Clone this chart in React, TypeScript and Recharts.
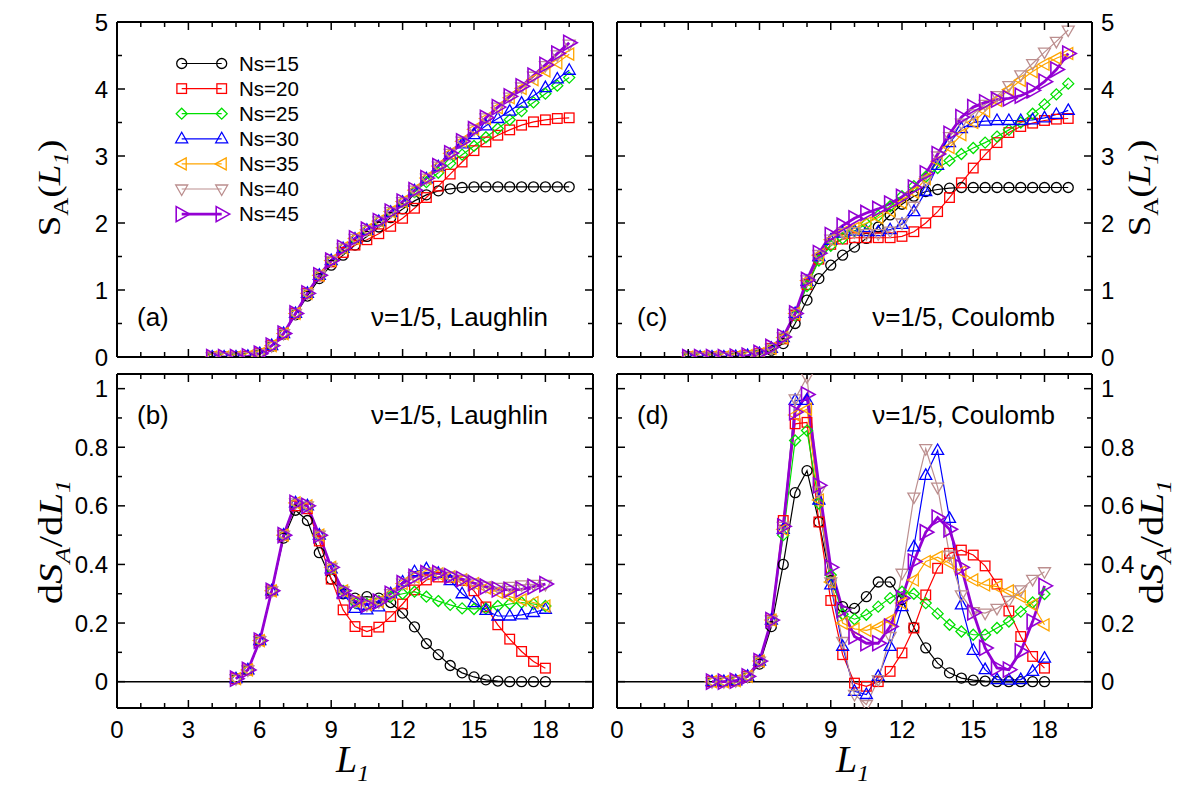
import React from 'react';
import { LineChart, Line, XAxis, YAxis, ReferenceLine } from 'recharts';

const SANS = '"Liberation Sans", Arial, Helvetica, sans-serif';
const SERIF = '"Liberation Serif", "Times New Roman", Times, serif';

const NS_LABELS = ['Ns=15', 'Ns=20', 'Ns=25', 'Ns=30', 'Ns=35', 'Ns=40', 'Ns=45'];
const COLORS = ['#000000', '#ff0000', '#00e000', '#0000ff', '#ffa500', '#bc8f8f', '#9400d3'];
const SHAPES = ['circle', 'square', 'diamond', 'up', 'left', 'down', 'right'];

const X_TICKS = [0, 1, 2, 3, 4, 5, 6, 7, 8, 9, 10, 11, 12, 13, 14, 15, 16, 17, 18, 19, 20];
const X_LABELED = [0, 3, 6, 9, 12, 15, 18];
const S_TICKS = [0, 0.5, 1, 1.5, 2, 2.5, 3, 3.5, 4, 4.5, 5];
const S_LABELED = [0, 1, 2, 3, 4, 5];
const D_TICKS = [0, 0.1, 0.2, 0.3, 0.4, 0.5, 0.6, 0.7, 0.8, 0.9, 1];
const D_LABELED = [0, 0.2, 0.4, 0.6, 0.8, 1];

// ---------- panel (a): S_A(L1), Laughlin ----------
const L1_A = [4, 4.5, 5, 5.5, 6, 6.5, 7, 7.5, 8, 8.5, 9, 9.5, 10, 10.5, 11, 11.5, 12, 12.5, 13, 13.5, 14, 14.5, 15, 15.5, 16, 16.5, 17, 17.5, 18, 18.5, 19];
const A15 = [0, 0, 0, 0.01, 0.05, 0.16, 0.34, 0.63, 0.91, 1.17, 1.37, 1.52, 1.67, 1.8, 1.94, 2.08, 2.21, 2.33, 2.42, 2.48, 2.51, 2.53, 2.54, 2.54, 2.54, 2.54, 2.54, 2.54, 2.54, 2.54, 2.54];
const A20 = [0, 0, 0, 0.01, 0.05, 0.17, 0.35, 0.65, 0.95, 1.21, 1.42, 1.56, 1.67, 1.75, 1.84, 1.95, 2.07, 2.22, 2.38, 2.55, 2.73, 2.91, 3.08, 3.21, 3.31, 3.39, 3.46, 3.51, 3.54, 3.56, 3.57];
const A25 = [0, 0, 0, 0.01, 0.05, 0.17, 0.35, 0.65, 0.95, 1.22, 1.44, 1.62, 1.76, 1.89, 2.02, 2.16, 2.31, 2.46, 2.61, 2.75, 2.89, 3.02, 3.15, 3.28, 3.41, 3.54, 3.67, 3.8, 3.93, 4.05, 4.17];
const A30 = [0, 0, 0, 0.01, 0.05, 0.17, 0.35, 0.65, 0.95, 1.22, 1.44, 1.62, 1.76, 1.89, 2.02, 2.16, 2.31, 2.48, 2.66, 2.84, 3.02, 3.18, 3.32, 3.45, 3.56, 3.67, 3.79, 3.9, 4.02, 4.15, 4.28];
const A35 = [0, 0, 0, 0.01, 0.05, 0.17, 0.35, 0.65, 0.95, 1.22, 1.44, 1.63, 1.77, 1.9, 2.03, 2.17, 2.32, 2.49, 2.67, 2.85, 3.04, 3.22, 3.4, 3.56, 3.72, 3.87, 4.01, 4.14, 4.27, 4.39, 4.52];
const A40 = [0, 0, 0, 0.01, 0.05, 0.17, 0.35, 0.65, 0.95, 1.22, 1.44, 1.63, 1.77, 1.9, 2.03, 2.17, 2.32, 2.49, 2.67, 2.85, 3.04, 3.22, 3.4, 3.57, 3.73, 3.88, 4.03, 4.19, 4.35, 4.51, 4.67];
const A45 = [0, 0, 0, 0.01, 0.05, 0.17, 0.35, 0.65, 0.95, 1.22, 1.44, 1.63, 1.77, 1.9, 2.03, 2.17, 2.32, 2.49, 2.67, 2.85, 3.04, 3.22, 3.4, 3.57, 3.73, 3.89, 4.04, 4.2, 4.36, 4.53, 4.69];

// ---------- panel (b): dS_A/dL1, Laughlin ----------
const L1_B = [5, 5.5, 6, 6.5, 7, 7.5, 8, 8.5, 9, 9.5, 10, 10.5, 11, 11.5, 12, 12.5, 13, 13.5, 14, 14.5, 15, 15.5, 16, 16.5, 17, 17.5, 18];
const B15 = [0.01, 0.04, 0.14, 0.31, 0.49, 0.585, 0.55, 0.44, 0.35, 0.3, 0.285, 0.29, 0.285, 0.27, 0.234, 0.187, 0.13, 0.092, 0.055, 0.03, 0.016, 0.006, 0.002, 0, 0, 0, 0];
const B20 = [0.01, 0.04, 0.14, 0.31, 0.5, 0.6, 0.59, 0.48, 0.35, 0.245, 0.188, 0.171, 0.186, 0.222, 0.265, 0.313, 0.347, 0.357, 0.356, 0.345, 0.31, 0.255, 0.194, 0.145, 0.103, 0.069, 0.046];
const B25 = [0.01, 0.04, 0.14, 0.31, 0.5, 0.61, 0.6, 0.5, 0.385, 0.31, 0.27, 0.265, 0.275, 0.29, 0.3, 0.307, 0.29, 0.275, 0.262, 0.25, 0.248, 0.25, 0.258, 0.265, 0.27, 0.265, 0.258];
const B30 = [0.01, 0.04, 0.14, 0.31, 0.5, 0.61, 0.6, 0.5, 0.385, 0.3, 0.25, 0.245, 0.255, 0.3, 0.34, 0.375, 0.385, 0.37, 0.345, 0.3, 0.27, 0.243, 0.224, 0.224, 0.228, 0.236, 0.247];
const B35 = [0.01, 0.04, 0.14, 0.31, 0.5, 0.61, 0.6, 0.5, 0.39, 0.31, 0.275, 0.263, 0.273, 0.3, 0.335, 0.357, 0.368, 0.368, 0.358, 0.347, 0.335, 0.32, 0.305, 0.29, 0.279, 0.27, 0.258];
const B40 = [0.01, 0.04, 0.14, 0.31, 0.5, 0.61, 0.6, 0.5, 0.39, 0.31, 0.275, 0.262, 0.273, 0.3, 0.336, 0.358, 0.37, 0.37, 0.36, 0.35, 0.336, 0.326, 0.322, 0.325, 0.33, 0.332, 0.332];
const B45 = [0.01, 0.04, 0.14, 0.31, 0.5, 0.61, 0.6, 0.5, 0.39, 0.31, 0.275, 0.262, 0.273, 0.3, 0.336, 0.358, 0.37, 0.37, 0.36, 0.35, 0.336, 0.324, 0.315, 0.313, 0.315, 0.324, 0.333];

// ---------- panel (c): S_A(L1), Coulomb ----------
const L1_C = [3, 3.5, 4, 4.5, 5, 5.5, 6, 6.5, 7, 7.5, 8, 8.5, 9, 9.5, 10, 10.5, 11, 11.5, 12, 12.5, 13, 13.5, 14, 14.5, 15, 15.5, 16, 16.5, 17, 17.5, 18, 18.5, 19];
const C15 = [0, 0, 0, 0, 0.005, 0.015, 0.04, 0.1, 0.2, 0.5, 0.85, 1.17, 1.37, 1.52, 1.64, 1.77, 1.94, 2.12, 2.28, 2.4, 2.47, 2.5, 2.52, 2.53, 2.53, 2.53, 2.53, 2.53, 2.53, 2.53, 2.53, 2.53, 2.53];
const C20 = [0, 0, 0, 0, 0.005, 0.02, 0.05, 0.13, 0.27, 0.62, 1.08, 1.46, 1.68, 1.76, 1.78, 1.78, 1.78, 1.78, 1.8, 1.87, 2.0, 2.17, 2.38, 2.6, 2.82, 3.02, 3.2, 3.35, 3.44, 3.49, 3.53, 3.55, 3.56];
const C25 = [0, 0, 0, 0, 0.005, 0.02, 0.05, 0.13, 0.28, 0.62, 1.06, 1.44, 1.66, 1.77, 1.88, 1.99, 2.11, 2.25, 2.4, 2.55, 2.69, 2.82, 2.93, 3.03, 3.12, 3.2, 3.29, 3.39, 3.5, 3.63, 3.77, 3.92, 4.08];
const C30 = [0, 0, 0, 0, 0.005, 0.02, 0.05, 0.13, 0.29, 0.65, 1.13, 1.5, 1.74, 1.85, 1.88, 1.87, 1.87, 1.9, 1.98, 2.17, 2.47, 2.86, 3.2, 3.41, 3.5, 3.52, 3.53, 3.53, 3.53, 3.54, 3.57, 3.62, 3.68];
const C35 = [0, 0, 0, 0, 0.005, 0.02, 0.05, 0.13, 0.29, 0.65, 1.14, 1.52, 1.75, 1.86, 1.92, 2.0, 2.08, 2.18, 2.3, 2.46, 2.66, 2.92, 3.13, 3.32, 3.5, 3.67, 3.83, 3.99, 4.13, 4.26, 4.37, 4.46, 4.53];
const C40 = [0, 0, 0, 0, 0.005, 0.02, 0.05, 0.13, 0.3, 0.65, 1.15, 1.53, 1.76, 1.86, 1.87, 1.84, 1.84, 1.88, 2.0, 2.25, 2.63, 3.0, 3.29, 3.49, 3.63, 3.77, 3.9, 4.05, 4.21, 4.38, 4.55, 4.71, 4.88];
const C45 = [0, 0, 0, 0, 0.005, 0.02, 0.06, 0.15, 0.3, 0.65, 1.15, 1.55, 1.82, 1.96, 2.07, 2.15, 2.21, 2.29, 2.39, 2.53, 2.74, 3.03, 3.33, 3.58, 3.73, 3.8, 3.84, 3.86, 3.9, 3.98, 4.11, 4.29, 4.53];

// ---------- panel (d): dS_A/dL1, Coulomb ----------
const L1_D = [4, 4.5, 5, 5.5, 6, 6.5, 7, 7.5, 8, 8.5, 9, 9.5, 10, 10.5, 11, 11.5, 12, 12.5, 13, 13.5, 14, 14.5, 15, 15.5, 16, 16.5, 17, 17.5, 18];
const D15 = [0, 0, 0.003, 0.015, 0.06, 0.188, 0.4, 0.645, 0.72, 0.545, 0.345, 0.256, 0.25, 0.29, 0.34, 0.34, 0.28, 0.185, 0.115, 0.063, 0.03, 0.012, 0.005, 0.002, 0, 0, 0, 0, 0];
const D20 = [0, 0, 0.003, 0.018, 0.07, 0.21, 0.55, 0.88, 0.885, 0.545, 0.277, 0.092, -0.005, -0.016, 0.0, 0.035, 0.098, 0.183, 0.296, 0.387, 0.438, 0.449, 0.432, 0.395, 0.333, 0.241, 0.154, 0.086, 0.046];
const D25 = [0, 0, 0.003, 0.018, 0.07, 0.21, 0.5, 0.823, 0.857, 0.608, 0.364, 0.23, 0.213, 0.228, 0.256, 0.285, 0.307, 0.3, 0.268, 0.232, 0.194, 0.171, 0.16, 0.16, 0.183, 0.205, 0.239, 0.27, 0.299];
const D30 = [0, 0, 0.003, 0.018, 0.07, 0.21, 0.52, 0.96, 0.96, 0.62, 0.33, 0.12, -0.033, -0.044, 0.018, 0.12, 0.256, 0.46, 0.704, 0.789, 0.557, 0.262, 0.107, 0.041, 0.007, 0.005, 0.007, 0.035, 0.08];
const D35 = [0, 0, 0.003, 0.018, 0.07, 0.21, 0.52, 0.91, 0.93, 0.62, 0.34, 0.2, 0.18, 0.175, 0.186, 0.21, 0.268, 0.347, 0.41, 0.425, 0.404, 0.375, 0.347, 0.33, 0.324, 0.31, 0.29, 0.262, 0.194];
const D40 = [0, 0, 0.003, 0.018, 0.07, 0.21, 0.53, 0.965, 1.04, 0.65, 0.34, 0.137, -0.044, -0.078, 0.007, 0.154, 0.37, 0.63, 0.795, 0.664, 0.432, 0.296, 0.239, 0.234, 0.25, 0.277, 0.313, 0.349, 0.375];
const D45 = [0, 0, 0.003, 0.018, 0.07, 0.21, 0.53, 0.92, 0.98, 0.67, 0.39, 0.245, 0.154, 0.131, 0.131, 0.188, 0.285, 0.41, 0.51, 0.56, 0.52, 0.39, 0.236, 0.115, 0.047, 0.041, 0.103, 0.205, 0.327];

const toPts = (xs: number[], ys: number[]) => xs.map((x, i) => ({ x, y: ys[i] }));

function Marker({ shape, cx, cy, color }: { shape: string; cx: number; cy: number; color: string }) {
  if (cx == null || cy == null || isNaN(cx) || isNaN(cy)) return null;
  const sw = shape === 'right' ? 1.6 : 1.3;
  const common = { fill: 'none', stroke: color, strokeWidth: sw };
  switch (shape) {
    case 'circle':
      return <circle cx={cx} cy={cy} r={5} {...common} />;
    case 'square':
      return <rect x={cx - 4.8} y={cy - 4.8} width={9.6} height={9.6} {...common} />;
    case 'diamond':
      return <polygon points={`${cx},${cy - 5.5} ${cx + 5.5},${cy} ${cx},${cy + 5.5} ${cx - 5.5},${cy}`} {...common} />;
    case 'up':
      return <polygon points={`${cx},${cy - 6.5} ${cx + 6},${cy + 4} ${cx - 6},${cy + 4}`} {...common} />;
    case 'down':
      return <polygon points={`${cx},${cy + 6.5} ${cx + 6},${cy - 4} ${cx - 6},${cy - 4}`} {...common} />;
    case 'left':
      return <polygon points={`${cx - 6.5},${cy} ${cx + 4.5},${cy - 6} ${cx + 4.5},${cy + 6}`} {...common} />;
    default:
      return <polygon points={`${cx + 8},${cy} ${cx - 5.5},${cy - 7.5} ${cx - 5.5},${cy + 7.5}`} {...common} />;
  }
}

const TICK_FONT = 24;
const isMajorX = (v: number) => Math.round(v) % 3 === 0;

const mkBottomTick = (showLabel: boolean) => (p: any) => {
  const v = p.payload.value;
  const major = isMajorX(v);
  return (
    <g key={`bt${v}`}>
      <line x1={p.x} x2={p.x} y1={p.y} y2={p.y - (major ? 8 : 5)} stroke="#000" strokeWidth={1.5} />
      {showLabel && X_LABELED.includes(v) ? (
        <text x={p.x} y={p.y + 30} textAnchor="middle" fontSize={TICK_FONT} fontFamily={SANS} fill="#000">
          {String(v)}
        </text>
      ) : null}
    </g>
  );
};

const topTick = (p: any) => {
  const v = p.payload.value;
  const major = isMajorX(v);
  return (
    <g key={`tt${v}`}>
      <line x1={p.x} x2={p.x} y1={p.y} y2={p.y + (major ? 8 : 5)} stroke="#000" strokeWidth={1.5} />
    </g>
  );
};

const mkYTick = (side: 'left' | 'right', labeled: number[], showLabel: boolean) => (p: any) => {
  const v = p.payload.value;
  const major = labeled.some((m) => Math.abs(m - v) < 1e-6);
  const len = major ? 8 : 5;
  const dir = side === 'left' ? 1 : -1;
  return (
    <g key={`yt${side}${v}`}>
      <line x1={p.x} x2={p.x + dir * len} y1={p.y} y2={p.y} stroke="#000" strokeWidth={1.5} />
      {showLabel && major ? (
        <text
          x={p.x - dir * 9}
          y={p.y}
          dy="0.36em"
          textAnchor={side === 'left' ? 'end' : 'start'}
          fontSize={TICK_FONT}
          fontFamily={SANS}
          fill="#000"
        >
          {String(v)}
        </text>
      ) : null}
    </g>
  );
};

type PanelProps = {
  left: number;
  top: number;
  w: number;
  h: number;
  xs: number[];
  series: number[][];
  yDomain: [number, number];
  yTicks: number[];
  yLabeled: number[];
  labelSide: 'left' | 'right';
  showX: boolean;
  zero: boolean;
};

const PAD_T = 22;
const PAD_B = 50;
const PAD_S = 60;

function Panel({ left, top, w, h, xs, series, yDomain, yTicks, yLabeled, labelSide, showX, zero }: PanelProps) {
  return (
    <div style={{ position: 'absolute', left: left - PAD_S, top: top - PAD_T, width: w + 2 * PAD_S, height: h + PAD_T + PAD_B }}>
      <LineChart width={w + 2 * PAD_S} height={h + PAD_T + PAD_B} margin={{ top: 0, right: 0, bottom: 0, left: 0 }}>
        <XAxis
          xAxisId="b"
          type="number"
          dataKey="x"
          domain={[0, 20]}
          allowDataOverflow
          ticks={X_TICKS}
          interval={0}
          height={PAD_B}
          tickSize={0}
          tickMargin={0}
          axisLine={{ stroke: '#000', strokeWidth: 2 }}
          tickLine={false}
          tick={mkBottomTick(showX)}
        />
        <XAxis
          xAxisId="t"
          orientation="top"
          type="number"
          dataKey="x"
          domain={[0, 20]}
          allowDataOverflow
          ticks={X_TICKS}
          interval={0}
          height={PAD_T}
          tickSize={0}
          tickMargin={0}
          axisLine={{ stroke: '#000', strokeWidth: 2 }}
          tickLine={false}
          tick={topTick}
        />
        <YAxis
          yAxisId="l"
          type="number"
          domain={yDomain}
          allowDataOverflow
          ticks={yTicks}
          interval={0}
          width={PAD_S}
          tickSize={0}
          tickMargin={0}
          axisLine={{ stroke: '#000', strokeWidth: 2 }}
          tickLine={false}
          tick={mkYTick('left', yLabeled, labelSide === 'left')}
        />
        <YAxis
          yAxisId="r"
          orientation="right"
          type="number"
          domain={yDomain}
          allowDataOverflow
          ticks={yTicks}
          interval={0}
          width={PAD_S}
          tickSize={0}
          tickMargin={0}
          axisLine={{ stroke: '#000', strokeWidth: 2 }}
          tickLine={false}
          tick={mkYTick('right', yLabeled, labelSide === 'right')}
        />
        {zero ? <ReferenceLine xAxisId="b" yAxisId="l" y={0} stroke="#000" strokeWidth={1.5} /> : null}
        {series.map((ys, si) => (
          <Line
            key={NS_LABELS[si]}
            xAxisId="b"
            yAxisId="l"
            data={toPts(xs, ys)}
            dataKey="y"
            type="linear"
            stroke={COLORS[si]}
            strokeWidth={si === 6 ? 2.8 : 1.2}
            isAnimationActive={false}
            activeDot={false}
            dot={(p: any) => (
              <Marker key={`m${si}-${p.index}`} shape={SHAPES[si]} cx={p.cx} cy={p.cy} color={COLORS[si]} />
            )}
          />
        ))}
      </LineChart>
    </div>
  );
}

function Overlay() {
  const legendY = [63.5, 88.6, 113.7, 138.8, 163.9, 189, 214.1];
  return (
    <svg
      width={1199}
      height={789}
      style={{ position: 'absolute', left: 0, top: 0, pointerEvents: 'none' }}
    >
      {/* legend */}
      {NS_LABELS.map((lab, i) => (
        <g key={lab}>
          <line x1={181.7} x2={221.7} y1={legendY[i]} y2={legendY[i]} stroke={COLORS[i]} strokeWidth={i === 6 ? 2.8 : 1.2} />
          <Marker shape={SHAPES[i]} cx={181.7} cy={legendY[i]} color={COLORS[i]} />
          <Marker shape={SHAPES[i]} cx={221.7} cy={legendY[i]} color={COLORS[i]} />
          <text x={239} y={legendY[i]} dy="0.36em" fontSize={20.5} fontFamily={SANS} fill="#000">
            {lab}
          </text>
        </g>
      ))}
      {/* panel labels */}
      <text x={137} y={326} fontSize={26} fontFamily={SANS}>(a)</text>
      <text x={137} y={424} fontSize={26} fontFamily={SANS}>(b)</text>
      <text x={637} y={326} fontSize={26} fontFamily={SANS}>(c)</text>
      <text x={637} y={424} fontSize={26} fontFamily={SANS}>(d)</text>
      <text x={548} y={326} fontSize={26} textAnchor="end" fontFamily={SANS}>ν=1/5, Laughlin</text>
      <text x={548} y={424} fontSize={26} textAnchor="end" fontFamily={SANS}>ν=1/5, Laughlin</text>
      <text x={1055} y={326} fontSize={26} textAnchor="end" fontFamily={SANS}>ν=1/5, Coulomb</text>
      <text x={1055} y={424} fontSize={26} textAnchor="end" fontFamily={SANS}>ν=1/5, Coulomb</text>
      {/* x titles */}
      {[336, 836].map((x) => (
        <text key={`xt${x}`} x={x} y={772} fontSize={38} fontWeight={400} fontFamily={SERIF} fontStyle="italic">
          L
          <tspan fontSize={24} dy={9}>1</tspan>
        </text>
      ))}
      {/* y titles: S_A(L_1) */}
      {[60, 1150].map((x) => (
        <text key={`ys${x}`} x={0} y={0} fontSize={32} fontWeight={400} fontFamily={SERIF} textAnchor="middle" transform={`translate(${x},188) rotate(-90) scale(1.15,1)`}>
          S
          <tspan fontSize={22} dy={8}>A</tspan>
          <tspan dy={-8}>(</tspan>
          <tspan fontStyle="italic">L</tspan>
          <tspan fontSize={22} dy={8} fontStyle="italic">1</tspan>
          <tspan dy={-8}>)</tspan>
        </text>
      ))}
      {/* y titles: dS_A/dL_1 */}
      {[62, 1163].map((x) => (
        <text key={`yd${x}`} x={0} y={0} fontSize={34} fontWeight={400} fontFamily={SERIF} textAnchor="middle" transform={`translate(${x},542) rotate(-90) scale(1.2,1)`}>
          d
          <tspan fontStyle="italic">S</tspan>
          <tspan fontSize={22} dy={8} fontStyle="italic">A</tspan>
          <tspan dy={-8}>/d</tspan>
          <tspan fontStyle="italic">L</tspan>
          <tspan fontSize={22} dy={8} fontStyle="italic">1</tspan>
        </text>
      ))}
    </svg>
  );
}

export default function App() {
  return (
    <div style={{ position: 'absolute', left: 0, top: 0, width: 1199, height: 789, background: '#fff' }}>
      <Panel left={117} top={22} w={476} h={335} xs={L1_A} series={[A15, A20, A25, A30, A35, A40, A45]} yDomain={[0, 5]} yTicks={S_TICKS} yLabeled={S_LABELED} labelSide="left" showX={false} zero={false} />
      <Panel left={117} top={374} w={476} h={334} xs={L1_B} series={[B15, B20, B25, B30, B35, B40, B45]} yDomain={[-0.09, 1.05]} yTicks={D_TICKS} yLabeled={D_LABELED} labelSide="left" showX={true} zero={true} />
      <Panel left={617} top={22} w={475} h={335} xs={L1_C} series={[C15, C20, C25, C30, C35, C40, C45]} yDomain={[0, 5]} yTicks={S_TICKS} yLabeled={S_LABELED} labelSide="right" showX={false} zero={false} />
      <Panel left={617} top={374} w={475} h={334} xs={L1_D} series={[D15, D20, D25, D30, D35, D40, D45]} yDomain={[-0.09, 1.05]} yTicks={D_TICKS} yLabeled={D_LABELED} labelSide="right" showX={true} zero={true} />
      <Overlay />
    </div>
  );
}
